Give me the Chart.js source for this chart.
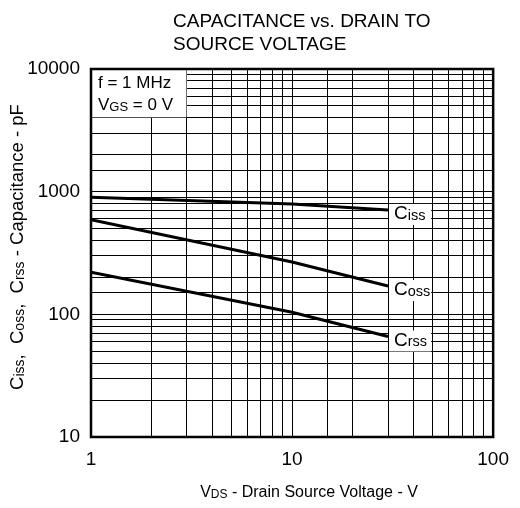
<!DOCTYPE html>
<html><head><meta charset="utf-8">
<script src="https://cdn.jsdelivr.net/npm/chart.js@4"></script>
<style>html,body{margin:0;padding:0;background:#fff;}#wrap{width:520px;height:508px;}</style>
</head><body><div id="wrap"><canvas id="c" width="520" height="508"></canvas></div>
<script>
// ---- data ----
const vds = [1, 10, 30];                 // V_DS (V)
const ciss = [900, 795, 710];            // pF
const coss = [590, 267, 170];            // pF
const crss = [220, 104, 66];             // pF
const xTickLabels = [1, 10, 100];
const yTickLabels = [10, 100, 1000, 10000];
const titleLines = ['CAPACITANCE vs. DRAIN TO', 'SOURCE VOLTAGE'];
const seriesNames = [['C', 'iss'], ['C', 'oss'], ['C', 'rss']];

const FONT = '"Liberation Sans", Arial, sans-serif';

function richWidth(ctx, parts) {
  let w = 0;
  for (const p of parts) { ctx.font = p.s + 'px ' + FONT; w += ctx.measureText(p.t).width; }
  return w;
}
function drawRich(ctx, parts, x, y, align) {
  const w = richWidth(ctx, parts);
  let cx = align === 'center' ? x - w / 2 : (align === 'right' ? x - w : x);
  ctx.textBaseline = 'middle';
  ctx.textAlign = 'left';
  for (const p of parts) {
    ctx.font = p.s + 'px ' + FONT;
    ctx.fillText(p.t, cx, y + (p.dy || 0));
    cx += ctx.measureText(p.t).width;
  }
}

const deco = {
  id: 'deco',
  beforeDatasetsDraw(chart) {
    const ctx = chart.ctx, xs = chart.scales.x, ys = chart.scales.y;
    const x0 = xs.getPixelForValue(1), x1 = xs.getPixelForValue(3);
    const y0 = ys.getPixelForValue(10000), y1 = ys.getPixelForValue(4000);
    ctx.save();
    ctx.fillStyle = '#fff';
    ctx.fillRect(x0, y0, x1 - x0 - 0.5, y1 - y0 - 0.5);
    ctx.fillStyle = '#000';
    drawRich(ctx, [{t: 'f = 1 MHz', s: 17}], x0 + 7, y0 + 14, 'left');
    drawRich(ctx, [{t: 'V', s: 17}, {t: 'GS', s: 13, dy: 2}, {t: ' = 0 V', s: 17}], x0 + 7, y0 + 36, 'left');
    ctx.restore();
  },
  afterDatasetsDraw(chart) {
    const ctx = chart.ctx, xs = chart.scales.x, ys = chart.scales.y;
    const sets = [ciss, coss, crss];
    ctx.save();
    sets.forEach((arr, i) => {
      const xe = xs.getPixelForValue(vds[vds.length - 1]);
      const ye = ys.getPixelForValue(arr[arr.length - 1]);
      const xr = xs.getPixelForValue(50);
      const parts = [{t: seriesNames[i][0], s: 19}, {t: seriesNames[i][1], s: 14.5, dy: 2}];
      ctx.fillStyle = '#fff';
      ctx.fillRect(xe + 1, ye + 4 - 10, xr - xe - 2.5, 21);
      ctx.fillStyle = '#000';
      drawRich(ctx, parts, xe + 6, ye + 4, 'left');
    });
    ctx.restore();
  },
  afterDraw(chart) {
    const ctx = chart.ctx, a = chart.chartArea;
    ctx.save();
    ctx.strokeStyle = '#000';
    ctx.lineWidth = 2.5;
    ctx.strokeRect(a.left, a.top, a.right - a.left, a.bottom - a.top);
    ctx.fillStyle = '#000';
    ctx.font = '19px ' + FONT;
    ctx.textAlign = 'left';
    ctx.textBaseline = 'middle';
    ctx.fillText(titleLines[0], 173, 22);
    ctx.fillText(titleLines[1], 173, 45);
    drawRich(ctx, [{t: 'V', s: 16}, {t: 'DS', s: 12, dy: 2}, {t: ' - Drain Source Voltage - V', s: 16}], 309, 493, 'center');
    ctx.translate(18, 247);
    ctx.rotate(-Math.PI / 2);
    drawRich(ctx, [
      {t: 'C', s: 18.5}, {t: 'iss', s: 14, dy: 2}, {t: ',  C', s: 18.5}, {t: 'oss', s: 14, dy: 2},
      {t: ',  C', s: 18.5}, {t: 'rss', s: 14, dy: 2}, {t: ' - Capacitance - pF', s: 18.5}
    ], 0, 0, 'center');
    ctx.restore();
  }
};

const mk = (label, data) => ({
  label,
  data: vds.map((v, i) => ({x: v, y: data[i]})),
  borderColor: '#000', borderWidth: 3, pointRadius: 0, tension: 0, fill: false
});

new Chart(document.getElementById('c'), {
  type: 'line',
  data: { datasets: [mk('Ciss', ciss), mk('Coss', coss), mk('Crss', crss)] },
  options: {
    responsive: false, animation: false, devicePixelRatio: 1,
    layout: { padding: { top: 69, right: 24, left: 0, bottom: 0 } },
    plugins: { legend: { display: false }, tooltip: { enabled: false }, title: { display: false } },
    scales: {
      x: {
        type: 'logarithmic', min: 1, max: 100,
        afterFit(s) { s.height = 71; },
        grid: { color: '#000', lineWidth: 1, drawTicks: false },
        border: { display: false },
        ticks: {
          autoSkip: false, maxRotation: 0, padding: 11, color: '#000',
          font: { family: FONT, size: 19 },
          callback: v => xTickLabels.includes(v) ? String(v) : ''
        }
      },
      y: {
        type: 'logarithmic', min: 10, max: 10000,
        afterFit(s) { s.width = 91; },
        grid: { color: '#000', lineWidth: 1, drawTicks: false },
        border: { display: false },
        ticks: {
          autoSkip: false, padding: 11, color: '#000',
          font: { family: FONT, size: 19 },
          callback: v => yTickLabels.includes(v) ? String(v) : ''
        }
      }
    }
  },
  plugins: [deco]
});
</script></body></html>
